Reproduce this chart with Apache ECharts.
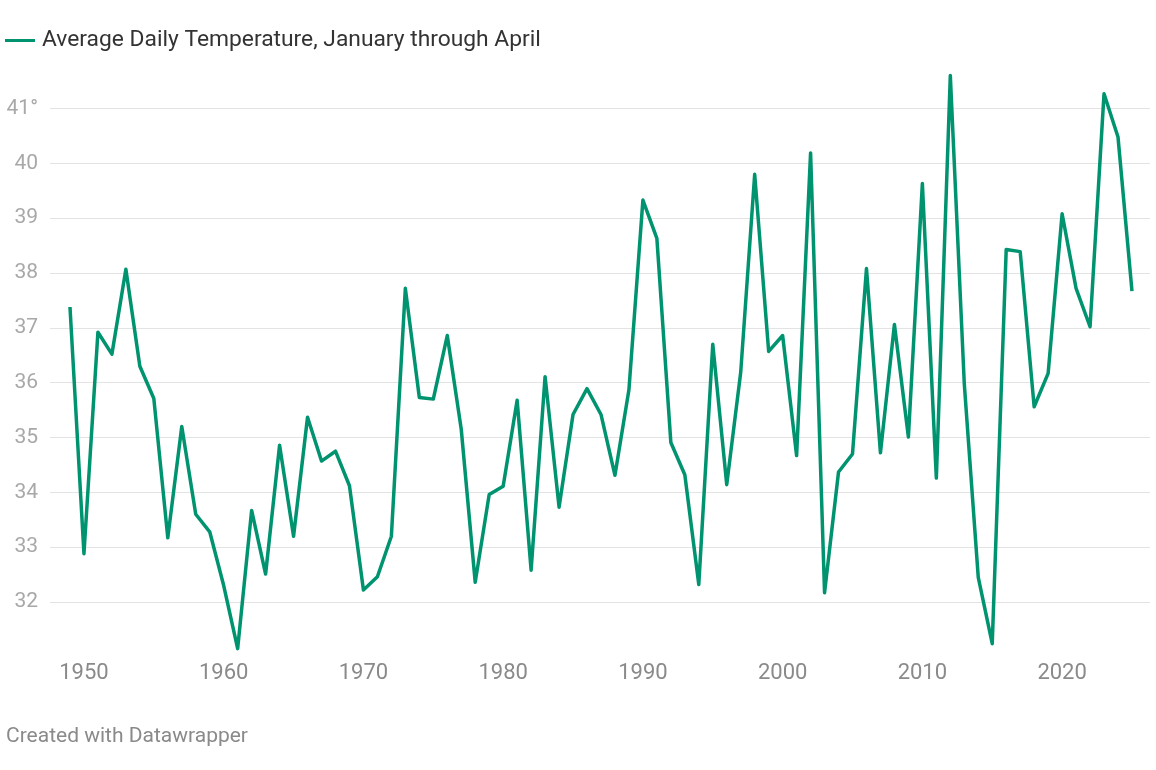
<!DOCTYPE html>
<html>
<head>
    <meta charset="utf-8">
    <title>Average Daily Temperature</title>
    <script src="https://cdn.jsdelivr.net/npm/echarts@6/dist/echarts.min.js"></script>
    <style>
        html, body { margin: 0; padding: 0; background: #fff; }
        #main { width: 1156px; height: 770px; }
    </style>
</head>
<body>
<div id="main"></div>
<script type="text/javascript">
    // years 1949 - 2025
    var firstYear = 1949;
    var temps = [
        37.38, 32.88, 36.92, 36.52, 38.07, 36.30, 35.71, 33.17, 35.20, 33.60,
        33.28, 32.30, 31.15, 33.67, 32.51, 34.86, 33.20, 35.37, 34.57, 34.75,
        34.12, 32.22, 32.46, 33.20, 37.72, 35.73, 35.70, 36.86, 35.15, 32.36,
        33.96, 34.11, 35.68, 32.58, 36.11, 33.73, 35.42, 35.89, 35.42, 34.31,
        35.87, 39.33, 38.63, 34.91, 34.32, 32.32, 36.70, 34.14, 36.19, 39.80,
        36.57, 36.86, 34.67, 40.19, 32.17, 34.37, 34.70, 38.08, 34.72, 37.06,
        35.01, 39.63, 34.26, 41.60, 35.98, 32.45, 31.24, 38.43, 38.39, 35.56,
        36.17, 39.08, 37.72, 37.02, 41.27, 40.48, 37.67
    ];
    var xTicks = [1950, 1960, 1970, 1980, 1990, 2000, 2010, 2020];
    var yTicks = [32, 33, 34, 35, 36, 37, 38, 39, 40, 41];
    var seriesName = 'Average Daily Temperature, January through April';

    var lineData = [];
    for (var i = 0; i < temps.length; i++) {
        lineData.push([firstYear + i, temps[i]]);
    }

    var myChart = echarts.init(document.getElementById('main'));
    var option = {
        backgroundColor: '#ffffff',
        animation: false,
        textStyle: { fontFamily: 'Roboto, sans-serif' },
        legend: {
            left: 5,
            top: 29,
            padding: 0,
            icon: 'rect',
            itemWidth: 30,
            itemHeight: 3,
            itemGap: 8,
            data: [seriesName],
            textStyle: { fontSize: 22.8, color: '#333333', fontFamily: 'Roboto', padding: [0, 0, 0, 2] }
        },
        grid: {
            left: 50,
            right: 6,
            top: 108.5,
            bottom: 168
        },
        xAxis: {
            type: 'value',
            min: 1947.57,
            max: 2026.29,
            axisLine: { show: false },
            axisTick: { show: false },
            splitLine: { show: false },
            axisLabel: {
                customValues: xTicks,
                margin: 60,
                fontSize: 22,
                color: '#8a8a8a',
                fontFamily: 'Roboto',
                formatter: function (v) { return String(v); }
            }
        },
        yAxis: {
            type: 'value',
            min: 32,
            max: 41,
            interval: 1,
            axisLine: { show: false },
            axisTick: { show: false },
            splitLine: { lineStyle: { color: '#e3e3e3', width: 1 } },
            axisLabel: {
                customValues: yTicks,
                margin: 12,
                fontSize: 21,
                color: '#a8a8a8',
                fontFamily: 'Roboto',
                formatter: function (v) {
                    return v === 41 ? '41°' : String(v);
                }
            }
        },
        series: [
            {
                name: seriesName,
                type: 'line',
                data: lineData,
                clip: false,
                showSymbol: false,
                symbol: 'none',
                color: '#00936f',
                lineStyle: { width: 3.5, color: '#00936f', join: 'round' }
            }
        ],
        graphic: [
            {
                type: 'text',
                left: 6,
                top: 726,
                style: {
                    text: 'Created with Datawrapper',
                    fontSize: 21,
                    fill: '#8a8a8a',
                    fontFamily: 'Roboto'
                }
            }
        ]
    };
    myChart.setOption(option);
</script>
</body>
</html>
